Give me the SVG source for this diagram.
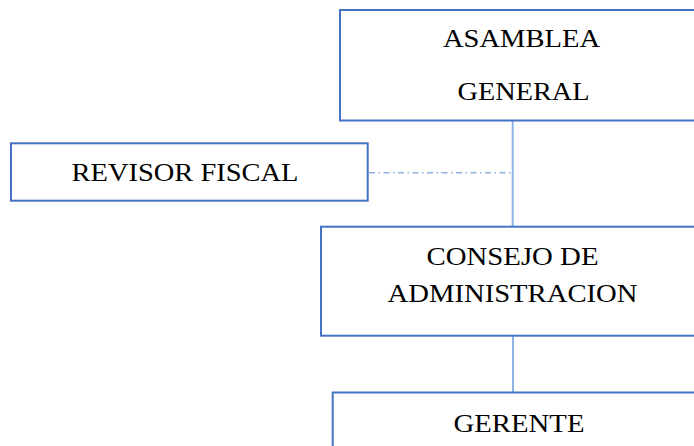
<svg xmlns="http://www.w3.org/2000/svg" width="694" height="446" viewBox="0 0 694 446">
<style>
.box{fill:#fff;stroke:#4472C4;stroke-width:2}
.t{font-family:'Liberation Serif','DejaVu Serif',serif;font-size:26px;fill:#000;text-anchor:middle}
.c{stroke:#8DB4E2;stroke-width:2;fill:none}
.d{stroke:#8DB4E2;stroke-width:1.4;fill:none;stroke-dasharray:6 3.5 1.5 3.5}
</style>
<rect width="694" height="446" fill="#fff"/>
<g id="connectors">
<line class="c" x1="512.7" y1="121" x2="512.7" y2="227"/>
<line class="d" x1="369" y1="172.7" x2="511" y2="172.7"/>
<line class="c" x1="513" y1="336" x2="513" y2="392.5"/>
</g>
<g id="asamblea">
<rect class="box" x="340" y="10" width="364" height="110.5"/>
<text class="t" x="521.5" y="46.5" textLength="157" lengthAdjust="spacingAndGlyphs">ASAMBLEA</text>
<text class="t" x="523.5" y="100" textLength="132" lengthAdjust="spacingAndGlyphs">GENERAL</text>
</g>
<g id="revisor">
<rect class="box" x="11" y="143.3" width="356.7" height="57.4"/>
<text class="t" x="185" y="180.5" textLength="227" lengthAdjust="spacingAndGlyphs">REVISOR FISCAL</text>
</g>
<g id="consejo">
<rect class="box" x="321" y="226.7" width="383" height="109"/>
<text class="t" x="512.5" y="264.5" textLength="172" lengthAdjust="spacingAndGlyphs">CONSEJO DE</text>
<text class="t" x="512.5" y="301.5" textLength="250" lengthAdjust="spacingAndGlyphs">ADMINISTRACION</text>
</g>
<g id="gerente">
<rect class="box" x="332.7" y="392.5" width="372" height="70"/>
<text class="t" x="519" y="432" textLength="131" lengthAdjust="spacingAndGlyphs">GERENTE</text>
</g>
</svg>
